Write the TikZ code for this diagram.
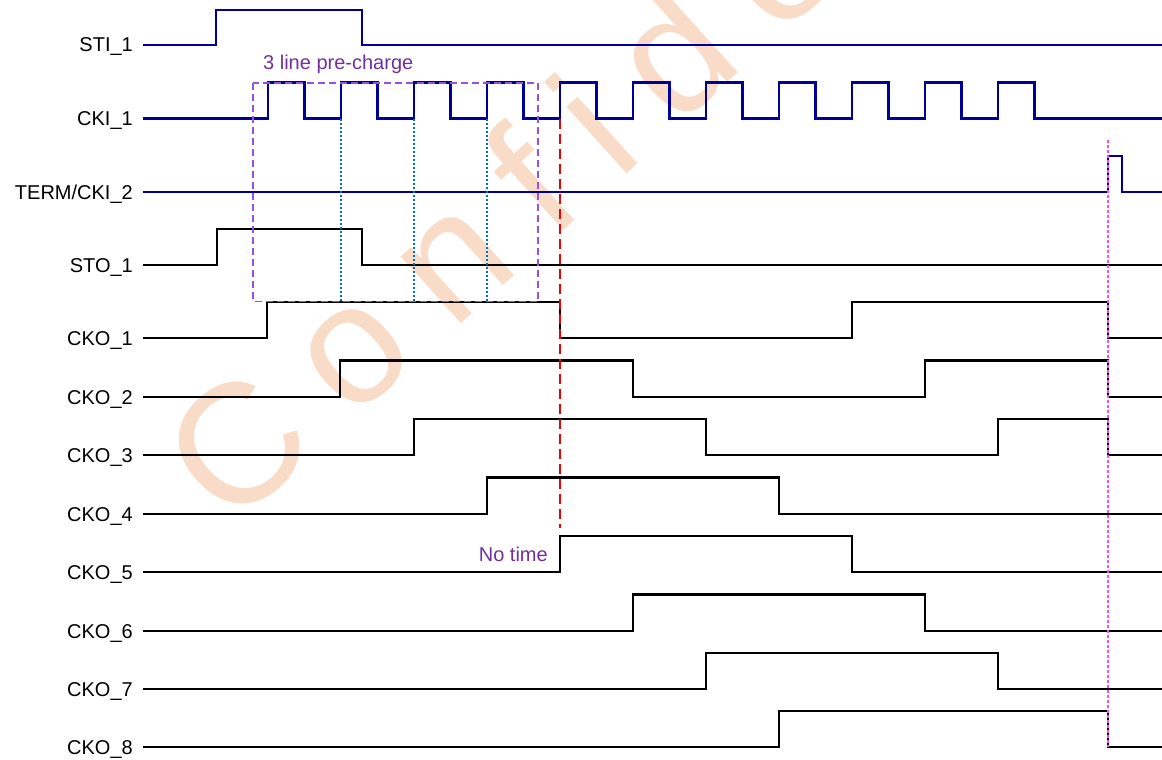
\documentclass[tikz,border=0pt]{standalone}
\usepackage{fontspec}
\setmainfont{Liberation Sans}
\newfontfamily\wmfont[LetterSpace=24,Ligatures=NoCommon]{Liberation Sans}
\definecolor{sigblue}{RGB}{0,0,153}
\definecolor{boxpurple}{RGB}{150,80,230}
\definecolor{txtpurple}{RGB}{112,48,160}
\definecolor{dotblue}{RGB}{0,112,192}
\definecolor{nored}{RGB}{240,0,0}
\definecolor{termmag}{RGB}{255,70,255}
\definecolor{wmorange}{RGB}{249,220,200}
\begin{document}
\begin{tikzpicture}[x=1pt,y=-1pt,
  sigb/.style={draw=sigblue,line width=2.7pt},
  sigk/.style={draw=black,line width=2.7pt},
  lbl/.style={anchor=base east,inner sep=0pt,font=\fontsize{20}{24}\selectfont},
  note/.style={inner sep=0pt,text=txtpurple,font=\fontsize{20}{24}\selectfont},
  prebox/.style={draw=boxpurple,line width=1.8pt,dash pattern=on 7pt off 4pt},
  edgedot/.style={draw=dotblue,line width=1.8pt,dash pattern=on 2pt off 2pt},
  notime/.style={draw=nored,line width=2.2pt,dash pattern=on 10pt off 5pt},
  termdot/.style={draw=termmag,line width=1.5pt,dash pattern=on 2.5pt off 2.5pt}]
\useasboundingbox (0,0) rectangle (1162,760);
% watermark
\begin{scope}
\clip (0,0) rectangle (1162,760);
\node[rotate=42,anchor=base west,inner sep=0pt,text=wmorange,
  font=\wmfont\fontsize{170}{180}\selectfont] (wm) at (230,531) {Confidential};
\end{scope}
% labels
\node[lbl] (lsti) at (133,52) {STI\_1};
\node[lbl] (lcki) at (133,125.5) {CKI\_1};
\node[lbl] (lterm) at (133,199) {TERM/CKI\_2};
\node[lbl] (lsto) at (133,272) {STO\_1};
\node[lbl] (lc1) at (133,345) {CKO\_1};
\node[lbl] (lc2) at (133,404) {CKO\_2};
\node[lbl] (lc3) at (133,462) {CKO\_3};
\node[lbl] (lc4) at (133,521) {CKO\_4};
\node[lbl] (lc5) at (133,579) {CKO\_5};
\node[lbl] (lc6) at (133,638) {CKO\_6};
\node[lbl] (lc7) at (133,696) {CKO\_7};
\node[lbl] (lc8) at (133,754) {CKO\_8};
% input signals
\draw[sigb] (143,45) -| (216,10) -| (362,45) -- (1162,45);
\draw[sigb] (143,118.5) \foreach \r in {268,341,414,487,560,633,706,779,852,925,998} { -| (\r,82.5) -| (\r+36.5,118.5) } -- (1162,118.5);
\draw[sigb] (143,192) -| (1108,156) -| (1122,192) -- (1162,192);
% outputs
\draw[sigk] (143,265) -| (217,229) -| (362,265) -- (1162,265);
\draw[sigk] (143,338) -| (267,302) -| (560,338) -| (852,302) -| (1108,338) -- (1162,338);
\draw[sigk] (143,397) -| (340,360.5) -| (633,397) -| (925,360.5) -| (1108,397) -- (1162,397);
\draw[sigk] (143,455) -| (414,419) -| (706,455) -| (998,419) -| (1108,455) -- (1162,455);
\draw[sigk] (143,514) -| (487,477.5) -| (779,514) -- (1162,514);
\draw[sigk] (143,572) -| (560,536) -| (852,572) -- (1162,572);
\draw[sigk] (143,631) -| (633,594.5) -| (925,631) -- (1162,631);
\draw[sigk] (143,689) -| (706,653) -| (998,689) -- (1162,689);
\draw[sigk] (143,747) -| (779,711) -| (1108,747) -- (1162,747);
% markers
\draw[edgedot] (341,119) -- (341,301.5);
\draw[edgedot] (414,119) -- (414,301.5);
\draw[edgedot] (487,119) -- (487,301.5);
\draw[prebox] (253,83) rectangle (538,301.5);
\draw[notime] (560,119) -- (560,528);
\draw[termdot] (1108,140) -- (1108,747);
\node[note,anchor=base west] (pre) at (263,70) {3 line pre-charge};
\node[note,anchor=base east] (nt) at (548,561) {No time};
\end{tikzpicture}
\end{document}
